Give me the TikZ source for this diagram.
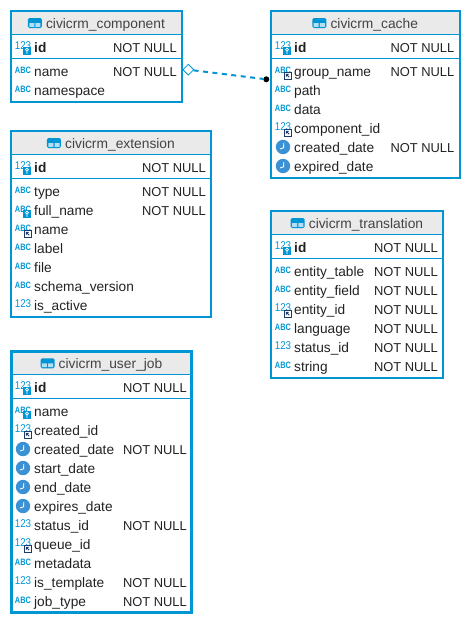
\documentclass[tikz,border=0pt]{standalone}
\usepackage{fontspec}
\setmainfont{Liberation Sans}
\usetikzlibrary{
  arrows.meta,
  shapes.geometric,
  positioning,
  calc
}
\definecolor{SchemaBlue} {RGB}{0,150,214}
\definecolor{SchemaHead} {RGB}{234,234,234}
\definecolor{SchemaInk}  {RGB}{34,34,34}
\definecolor{SchemaClock}{RGB}{58,146,212}
\definecolor{SchemaNavy} {RGB}{28,58,107}

\tikzset{
  tablebox/.style ={rectangle, draw=SchemaBlue, inner sep=0pt, outer sep=0pt, anchor=north west},
  tablehead/.style={rectangle, fill=SchemaHead, inner sep=0pt, outer sep=0pt, anchor=north west},
  tabletitle/.style={inner sep=0pt, anchor=base, font=\fontsize{13.8}{15}\selectfont, text=SchemaInk!85},
  rowsep/.style   ={draw=SchemaBlue, line width=1pt},
  colname/.style  ={inner sep=0pt, anchor=base west, font=\fontsize{13.7}{15}\selectfont, text=SchemaInk},
  colnull/.style  ={inner sep=0pt, anchor=base east, font=\fontsize{12.9}{15}\selectfont, text=SchemaInk},
  abctext/.style  ={inner sep=0pt, yscale=1.25, transform shape, font=\fontsize{7.4}{8}\selectfont\bfseries, text=SchemaBlue},
  numtext/.style  ={inner sep=0pt, yscale=1.15, transform shape, font=\fontsize{9.8}{11}\selectfont, text=SchemaBlue},
  fkline/.style   ={draw=SchemaBlue, line width=2pt, dash pattern=on 5pt off 4.5pt},
  fkopen/.style   ={diamond, draw=SchemaBlue, fill=white, line width=0.8pt, inner sep=0pt,
                    minimum width=11pt, minimum height=11pt},
  fkdot/.style    ={circle, fill=black, inner sep=0pt, minimum size=6pt},
  % column type icons
  keybadge/.pic={
    \fill[SchemaBlue] (0,0) rectangle (8,8);
    \draw[white, line width=0.8pt] (4,2.6) circle (1.5) (4,4.1) -- (4,6.8);
  },
  refbadge/.pic={
    \draw[SchemaNavy, fill=white, line width=1pt] (1.5,1.5) rectangle (8,8);
    \draw[SchemaNavy, line width=0.9pt] (3.4,3.4) -- (6.2,6.2) (3.4,5.6) -- (3.4,3.4) -- (5.6,3.4);
  },
  abcicon/.pic={\node[abctext] (-lbl) at (0,-1) {ABC};},
  numicon/.pic={\node[numtext] (-lbl) at (0,-1) {123};},
  abckey/.pic ={\node[abctext] (-lbl) at (0,-1) {ABC}; \pic {keybadge};},
  abcref/.pic ={\node[abctext] (-lbl) at (0,-1) {ABC}; \pic {refbadge};},
  numkey/.pic ={\node[numtext] (-lbl) at (0,-1) {123}; \pic {keybadge};},
  numref/.pic ={\node[numtext] (-lbl) at (0,-1) {123}; \pic {refbadge};},
  dateicon/.pic={
    \fill[SchemaClock] (0,0) circle (7.2);
    \draw[white, line width=0.9pt] (0.8,-4) -- (0.6,0.8) -- (-3,2);
  },
  tableicon/.pic={
    \fill[SchemaBlue, rounded corners=1.5pt] (-7,-5) rectangle (7,5);
    \fill[SchemaBlue!30] (-5.6,0) rectangle (-0.6,3.8) (0.6,0) rectangle (5.6,3.8);
  }
}

\newcommand{\nn}{NOT NULL}
% [border] name, left, top, width, height, title, columns
\newcommand{\dbtable}[8][2]{
  \pgfmathsetmacro{\inset}{#1/2}
  \pgfmathsetmacro{\boxw}{#5-#1}
  \pgfmathsetmacro{\boxh}{#6-#1}
  \pgfmathsetmacro{\textx}{#3+24}
  \pgfmathsetmacro{\iconx}{#3+13}
  \pgfmathsetmacro{\nullx}{#3+#5-6}
  \pgfmathsetmacro{\headh}{24-#1/2}
  \node[tablehead, minimum width=\boxw, minimum height=\headh] (#2-head) at (#3+\inset,#4+\inset) {};
  \node[tabletitle, yshift=-6pt, xshift=9pt] (#2-title) at (#2-head.center) {#7};
  \pic (#2-icon) at ([xshift=-11pt,yshift=5.5pt]#2-title.base west) {tableicon};
  \draw[rowsep] (#3,#4+24) -- (#3+#5,#4+24);
  \draw[rowsep] (#3,#4+48) -- (#3+#5,#4+48);
  \pic (#2-idicon) at (\iconx,#4+37) {numkey};
  \node[colname, font=\fontsize{13.7}{15}\selectfont\bfseries] (#2-id) at (\textx,#4+42) {id};
  \node[colnull] (#2-idnull) at (\nullx,#4+42) {\nn};
  \foreach \colkey/\colicon/\colflag [count=\n] in {#8} {
    \pgfmathsetmacro{\rowy}{#4+61+19*(\n-1)}
    \pic (#2-icon\n) at (\iconx,\rowy) {\colicon};
    \node[colname] (#2-col\n) at (\textx,\rowy+5) {\colkey};
    \node[colnull] (#2-null\n) at (\nullx,\rowy+5) {\colflag};
  }
  \node[tablebox, line width=#1pt, minimum width=\boxw, minimum height=\boxh] (#2) at (#3+\inset,#4+\inset) {};
}

\begin{document}
\begin{tikzpicture}[x=1pt, y=-1pt]
\useasboundingbox (0,0) rectangle (471,624);

\dbtable{component}{10}{10}{173}{92.5}{civicrm\_component}{
  name/abcicon/\nn, namespace/abcicon/{}}
\dbtable{cache}{270}{10}{190.5}{168.7}{civicrm\_cache}{
  group\_name/abcref/\nn, path/abcicon/{}, data/abcicon/{}, component\_id/numref/{},
  created\_date/dateicon/\nn, expired\_date/dateicon/{}}
\dbtable{extension}{10}{130}{202}{188}{civicrm\_extension}{
  type/abcicon/\nn, full\_name/abckey/\nn, name/abcref/{}, label/abcicon/{},
  file/abcicon/{}, schema\_version/abcicon/{}, is\_active/numicon/{}}
\dbtable{translation}{270}{210}{174}{169}{civicrm\_translation}{
  entity\_table/abcicon/\nn, entity\_field/abcicon/\nn, entity\_id/numref/\nn,
  language/abcicon/\nn, status\_id/numicon/\nn, string/abcicon/\nn}
\dbtable[3]{userjob}{10}{350}{183}{263.5}{civicrm\_user\_job}{
  name/abckey/{}, created\_id/numref/{}, created\_date/dateicon/\nn, start\_date/dateicon/{},
  end\_date/dateicon/{}, expires\_date/dateicon/{}, status\_id/numicon/\nn, queue\_id/numref/{},
  metadata/abcicon/{}, is\_template/numicon/\nn, job\_type/abcicon/\nn}

% foreign key
\node[fkopen] (fkstart) at (188.3,69.7) {};
\node[fkdot]  (fkend)   at (266.3,79.3) {};
\draw[fkline] (fkstart) -- (fkend);
\end{tikzpicture}
\end{document}
